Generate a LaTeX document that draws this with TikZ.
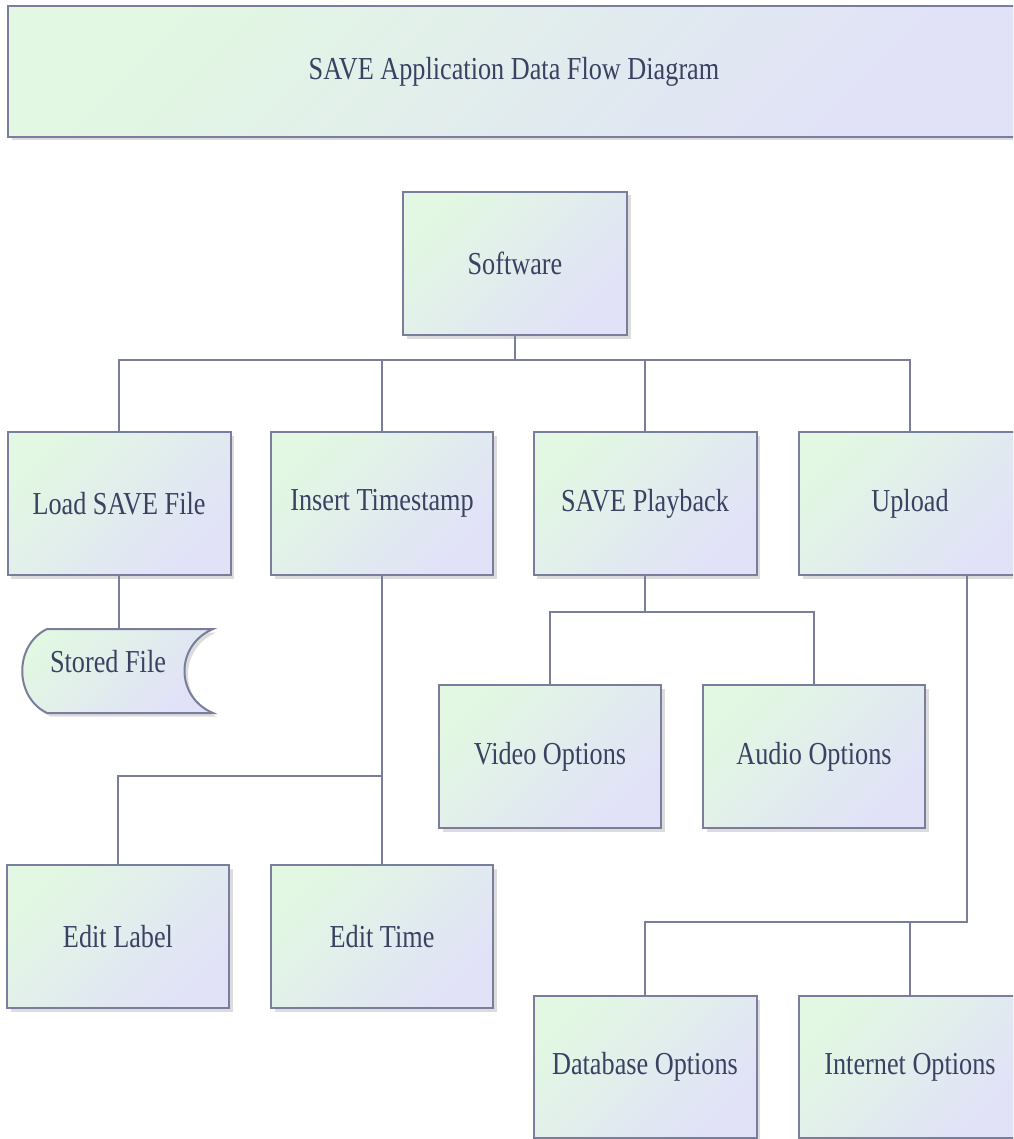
\documentclass[tikz,border=0pt]{standalone}
\usepackage{fontspec}
\setmainfont{Liberation Serif}
\usetikzlibrary{shadows,calc}
\definecolor{bordc}{RGB}{122,126,156}
\definecolor{txtc}{RGB}{58,66,98}
\definecolor{gA}{RGB}{226,248,226}
\definecolor{gB}{RGB}{225,225,248}
\newcommand{\cnd}[1]{\scalebox{0.82}[1]{#1}}
\tikzset{
  boxst/.style={draw=bordc, line width=2pt, top color=gA, bottom color=gB, shading angle=45,
    minimum width=222pt, minimum height=143pt, inner sep=0pt, text=txtc,
    font=\fontsize{32}{36}\selectfont,
    drop shadow={shadow xshift=3.5pt, shadow yshift=-3.5pt, opacity=0.3, fill=black!45}},
  conn/.style={draw=bordc, line width=2.4pt},
  labelst/.style={text=txtc, font=\fontsize{32}{36}\selectfont, inner sep=0pt}
}
\begin{document}
\begin{tikzpicture}[x=1pt,y=-1pt]
\useasboundingbox (0,0) rectangle (1013,1139);
\clip (0,0) rectangle (1013,1139);
\fill[white] (0,0) rectangle (1013,1139);
% title
\node[boxst, minimum width=1012pt, minimum height=131pt] (title) at (514,71.5) {\cnd{SAVE Application Data Flow Diagram}};
% top
\node[boxst, minimum width=224pt] (soft) at (515,263.5) {\cnd{Software}};
% level 2
\node[boxst, minimum width=223pt] (load) at (119,503.5) {\cnd{Load SAVE File}};
\node[boxst] (ins) at (382,503.5) {\cnd{Insert Timestamp}};
\node[boxst, minimum width=223pt] (play) at (645,503.5) {\cnd{SAVE Playback}};
\node[boxst] (upl) at (910,503.5) {\cnd{Upload}};
% stored file
\node[minimum width=191pt, minimum height=84pt, inner sep=0pt] (stored) at (119,671) {};
\fill[black!45, opacity=0.3, shift={(3.5,3.5)}]
  (47,629) -- (213,629) .. controls (175,645) and (175,697) .. (213,713)
  -- (47,713) .. controls (14,697) and (14,645) .. (47,629) -- cycle;
\path[draw=bordc, line width=2pt, top color=gA, bottom color=gB, shading angle=45]
  (47,629) -- (213,629) .. controls (175,645) and (175,697) .. (213,713)
  -- (47,713) .. controls (14,697) and (14,645) .. (47,629) -- cycle;
\node[labelst] (storedtxt) at (108,662) {\cnd{Stored File}};
% level 3
\node[boxst] (video) at (550,756.5) {\cnd{Video Options}};
\node[boxst] (audio) at (814,756.5) {\cnd{Audio Options}};
\node[boxst] (elabel) at (118,936.5) {\cnd{Edit Label}};
\node[boxst] (etime) at (382,936.5) {\cnd{Edit Time}};
\node[boxst, minimum width=223pt, minimum height=142pt] (db) at (645,1067) {\cnd{Database Options}};
\node[boxst, minimum height=142pt] (inet) at (910,1067) {\cnd{Internet Options}};
% connector levels
\coordinate (busA) at (0,360);
\coordinate (busB) at (0,776);
\coordinate (busC) at (0,612);
\coordinate (busD) at (0,922);
\coordinate (uplout) at (967,575);
% connectors
\draw[conn] (soft.south) -- (soft.south |- busA) -| (load.north);
\draw[conn] (soft.south |- busA) -| (ins.north);
\draw[conn] (soft.south |- busA) -| (play.north);
\draw[conn] (soft.south |- busA) -| (upl.north);
\draw[conn] (load.south) -- (stored.north);
\draw[conn] (ins.south) -- (ins.south |- busB) -| (elabel.north);
\draw[conn] (ins.south |- busB) -- (etime.north);
\draw[conn] (play.south) -- (play.south |- busC) -| (video.north);
\draw[conn] (play.south |- busC) -| (audio.north);
\draw[conn] (uplout) -- (uplout |- busD) -| (db.north);
\draw[conn] (uplout |- busD) -| (inet.north);
\end{tikzpicture}
\end{document}
